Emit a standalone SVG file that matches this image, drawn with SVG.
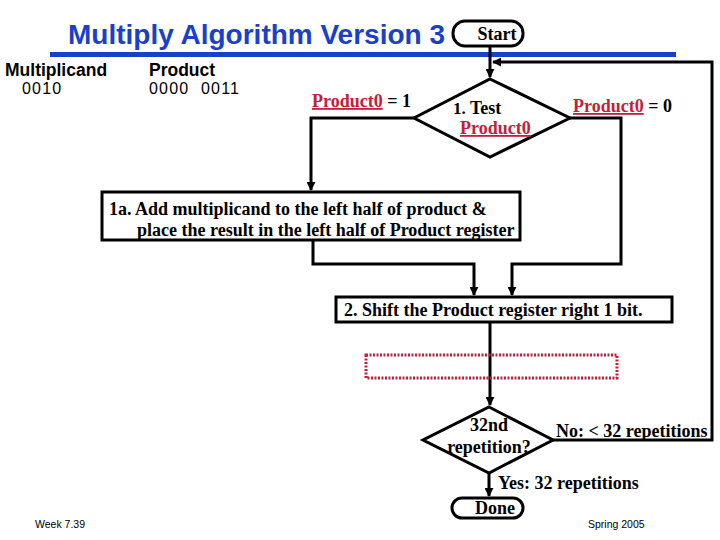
<svg xmlns="http://www.w3.org/2000/svg" width="720" height="540" viewBox="0 0 720 540">
<style>
.t{font-family:"Liberation Serif","Times New Roman",serif;font-weight:bold;font-size:18px;fill:#000}
.r{fill:#c41e3a;text-decoration:underline}
.s{font-family:"Liberation Sans",Arial,sans-serif}
.ln{fill:none;stroke:#000;stroke-width:3}
.box{fill:#fff;stroke:#000;stroke-width:3}
.d{font-size:16px;letter-spacing:1.2px}
</style>
<defs>
<marker id="ah" viewBox="0 0 10 10" refX="9" refY="5" markerWidth="3" markerHeight="3" orient="auto"><path d="M0,0L10,5L0,10z" fill="#000"/></marker>
</defs>
<rect width="720" height="540" fill="#fff"/>
<g id="title">
<text class="s" x="68" y="44" font-size="28" font-weight="bold" fill="#1a3fc8">Multiply Algorithm Version 3</text>
<rect x="50" y="52" width="626" height="5" fill="#1a3fc8"/>
</g>
<g id="registers" class="s" font-size="17.5">
<text x="5" y="76" font-weight="bold">Multiplicand</text>
<text class="d" x="22" y="94">0010</text>
<text x="149" y="76" font-weight="bold">Product</text>
<text class="d" x="149" y="94">0000</text>
<text class="d" x="201" y="94">0011</text>
</g>
<g id="connectors">
<path class="ln" d="M490,46V77" marker-end="url(#ah)"/>
<path class="ln" d="M553,440H712V62H493" marker-end="url(#ah)"/>
<path class="ln" d="M414,118H311V190" marker-end="url(#ah)"/>
<path class="ln" d="M570,118H621V264H512V295" marker-end="url(#ah)"/>
<path class="ln" d="M313,240V264H474V295" marker-end="url(#ah)"/>
<path class="ln" d="M490,322V405" marker-end="url(#ah)"/>
<path class="ln" d="M489,473V496" marker-end="url(#ah)"/>
<text class="t" x="312" y="107"><tspan class="r">Product0</tspan> = 1</text>
<text class="t" x="573" y="112"><tspan class="r">Product0</tspan> = 0</text>
<text class="t" x="556" y="437">No: &lt; 32 repetitions</text>
<text class="t" x="498" y="489">Yes: 32 repetitions</text>
</g>
<g id="start">
<rect class="box" x="453" y="21" width="70" height="25" rx="12"/>
<text class="t" x="497" y="40" text-anchor="middle" font-size="17">Start</text>
</g>
<g id="test1">
<path class="box" d="M490,79L570,118L490,157L414,118Z"/>
<text class="t" x="453" y="114" font-size="16"><tspan font-size="17">1.</tspan> Test</text>
<text class="t r" x="460" y="134" font-size="16">Product0</text>
</g>
<g id="step1a">
<rect class="box" x="102" y="192" width="418" height="48"/>
<text class="t" x="109" y="215">1a. Add multiplicand to the left half of product &amp;</text>
<text class="t" x="137" y="236">place the result in the left half of Product register</text>
</g>
<g id="step2">
<rect class="box" x="336" y="297" width="336" height="25"/>
<text class="t" x="344" y="316">2. Shift the Product register right 1 bit.</text>
</g>
<g id="placeholder">
<rect x="366" y="355" width="251" height="23" fill="none" stroke="#c41e3a" stroke-width="3" stroke-dasharray="2,1.5"/>
</g>
<g id="test2">
<path class="box" d="M489,407L553,440L489,473L423,440Z"/>
<text class="t" x="489" y="431" text-anchor="middle">32nd</text>
<text class="t" x="489" y="453" text-anchor="middle">repetition?</text>
</g>
<g id="done">
<rect class="box" x="452" y="498" width="71" height="20" rx="10"/>
<text class="t" x="495" y="514" text-anchor="middle">Done</text>
</g>
<g id="footer" class="s" font-size="10.5">
<text x="35" y="528">Week 7.39</text>
<text x="588" y="528">Spring 2005</text>
</g>
</svg>
